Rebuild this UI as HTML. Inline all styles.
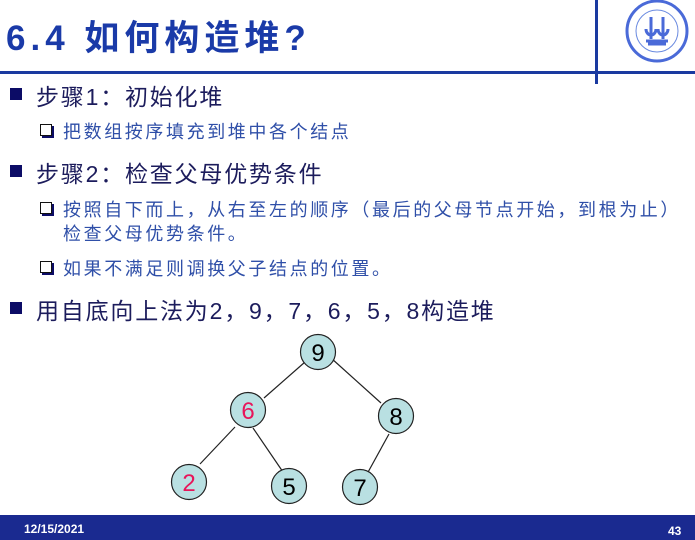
<!DOCTYPE html>
<html><head><meta charset="utf-8"><style>
body{margin:0;width:695px;height:540px;position:relative;background:#fff;overflow:hidden;font-family:"Liberation Sans","Noto Sans CJK SC",sans-serif}
.t{position:absolute;white-space:nowrap}
.m{color:#1c1c5c;font-size:23px;left:36px;letter-spacing:1.8px}
.s{color:#2f4fa8;font-size:18px;left:63px;letter-spacing:2.6px}
.b{position:absolute;left:10px;width:12px;height:12px;background:#0c0c66}
.h{position:absolute;left:40px;width:10px;height:10px;border:1px solid #111;box-shadow:2px 2px 0 #0c0c66;background:#fff}
</style></head><body>
<div class="t" style="left:6px;top:10px;font-size:35px;font-weight:bold;color:#1a3aa8;letter-spacing:5px">6.4&nbsp;如何构造堆?</div>
<div style="position:absolute;left:0;top:71px;width:695px;height:3px;background:#1a3aa0"></div>
<div style="position:absolute;left:595px;top:0;width:3px;height:84px;background:#1a3aa0"></div>
<svg style="position:absolute;left:622px;top:0" width="72" height="64">
<circle cx="35" cy="31" r="30" fill="#fff" stroke="#4a6ad8" stroke-width="3"/>
<circle cx="35" cy="31" r="21" fill="none" stroke="#6a8ae0" stroke-width="1"/>
<path d="M29 17 v22 M41 17 v22 M24 29 a5 6 0 1 0 10 0 M36 29 a5 6 0 1 0 10 0 M24 41 h22 M26 44 h18" stroke="#4a6ad8" stroke-width="3" fill="none"/>
</svg>
<div class="b" style="top:88px"></div><div class="t m" style="top:78px">步骤1：初始化堆</div>
<div class="h" style="top:124px"></div><div class="t s" style="top:118px">把数组按序填充到堆中各个结点</div>
<div class="b" style="top:165px"></div><div class="t m" style="top:155px">步骤2：检查父母优势条件</div>
<div class="h" style="top:202px"></div><div class="t s" style="top:196px">按照自下而上，从右至左的顺序（最后的父母节点开始，到根为止）</div>
<div class="t s" style="top:220px">检查父母优势条件。</div>
<div class="h" style="top:261px"></div><div class="t s" style="top:255px">如果不满足则调换父子结点的位置。</div>
<div class="b" style="top:302px"></div><div class="t m" style="top:292px">用自底向上法为2，9，7，6，5，8构造堆</div>
<svg style="position:absolute;left:0;top:0" width="695" height="540" font-family="Liberation Sans, sans-serif" font-size="24">
<g stroke="#222" stroke-width="1.2">
<line x1="305" y1="362" x2="264" y2="398"/><line x1="331" y1="358" x2="381" y2="403"/>
<line x1="235" y1="427" x2="200" y2="464"/><line x1="253" y1="428" x2="283" y2="472"/>
<line x1="389" y1="434" x2="367" y2="474"/>
</g>
<g fill="#b9e0e2" stroke="#222" stroke-width="1.2">
<circle cx="318" cy="352" r="17.5"/><circle cx="248" cy="410" r="17.5"/><circle cx="396" cy="416" r="17.5"/>
<circle cx="189" cy="482" r="17.5"/><circle cx="289" cy="486" r="17.5"/><circle cx="360" cy="487" r="17.5"/>
</g>
<g text-anchor="middle">
<text x="318" y="361">9</text><text x="248" y="419" fill="#e8155a">6</text><text x="396" y="425">8</text>
<text x="189" y="491" fill="#e8155a">2</text><text x="289" y="495">5</text><text x="360" y="496">7</text>
</g>
</svg>
<div style="position:absolute;left:0;top:515px;width:695px;height:25px;background:#1a2a90"></div>
<div class="t" style="left:24px;top:522px;color:#fff;font-size:12px;font-weight:bold">12/15/2021</div>
<div class="t" style="left:668px;top:524px;color:#fff;font-size:12px;font-weight:bold">43</div>
</body></html>
